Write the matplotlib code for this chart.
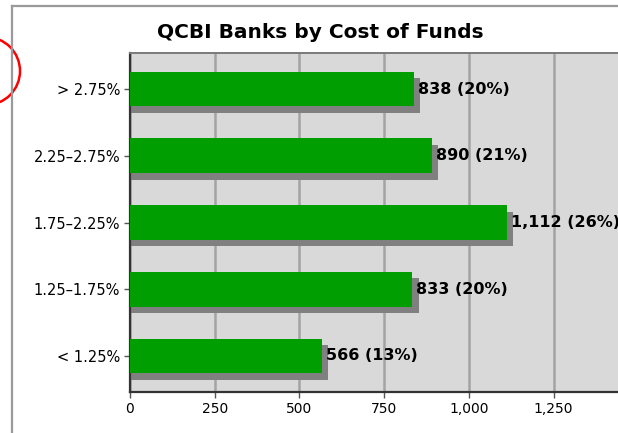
import matplotlib
matplotlib.use("Agg")
import matplotlib.pyplot as plt
import matplotlib.transforms as mtransforms
from matplotlib.lines import Line2D
from matplotlib.patches import Circle
import numpy as np

# cost-of-funds buckets, bottom to top
categories = ["< 1.25%", "1.25\u20131.75%", "1.75\u20132.25%", "2.25\u20132.75%", "> 2.75%"]
bank_counts = [566, 833, 1112, 890, 838]
x_ticks = [0, 250, 500, 750, 1000, 1250]

GREEN = "#009e00"
SHADOW = "#808080"
PANEL = "#d9d9d9"
GRID = "#a3a3a3"

fig = plt.figure(figsize=(6.18, 4.33), dpi=100)
# the value axis runs to 1,500, a little past the right edge of the figure
ax = fig.add_axes([130 / 618, 41 / 433, 508.3 / 618, 339 / 433])

total = sum(bank_counts)
pcts = [round(v / total * 100) for v in bank_counts]
y = np.arange(len(categories))
bar_h = 0.52

# drop shadow: same bars nudged right and down a few pixels
shift = mtransforms.ScaledTranslation(0.065, -0.065, fig.dpi_scale_trans)
shadows = ax.barh(y, np.array(bank_counts) + 30, left=-30, height=bar_h,
                  color=SHADOW, zorder=2)
for p in shadows:
    p.set_transform(ax.transData + shift)
ax.barh(y, bank_counts, height=bar_h, color=GREEN, zorder=3)

ax.set_xlim(0, 1500)
ax.set_ylim(-0.54, len(categories) - 1 + 0.54)
ax.set_facecolor(PANEL)
ax.set_xticks(x_ticks + [1500])
ax.set_xticklabels([f"{v:,}" for v in x_ticks] + [""])
ax.set_yticks(y)
ax.set_yticklabels(categories)
ax.tick_params(axis="y", labelsize=10.5, length=4, width=1, color="#555555", pad=3)
ax.tick_params(axis="x", labelsize=10, length=4, width=1, color="#555555", pad=3)
ax.grid(axis="x", color=GRID, linewidth=1.8, zorder=1)
ax.set_axisbelow(True)

for side in ("left", "bottom"):
    ax.spines[side].set_color("#333333")
    ax.spines[side].set_linewidth(1.6)
ax.spines["top"].set_color("#7a7a7a")
ax.spines["top"].set_linewidth(1.4)
ax.spines["right"].set_visible(False)

# value labels with share of total
for yi, v, pc in zip(y, bank_counts, pcts):
    ax.annotate(f"{v:,} ({pc}%)", xy=(v, yi), xytext=(3, 0),
                textcoords="offset points", ha="left", va="center",
                fontsize=11.5, fontweight="bold", zorder=4)

fig.text(320 / 618, (433 - 33) / 433, "QCBI Banks by Cost of Funds",
         ha="center", va="center", fontsize=14.5, fontweight="bold")

# outer frame
frame_x = 12 / 618
frame_y = (433 - 6) / 433
fig.add_artist(Line2D([frame_x, frame_x], [0, frame_y], transform=fig.transFigure,
                      color="#9a9a9a", linewidth=1.6))
fig.add_artist(Line2D([frame_x, 1], [frame_y, frame_y], transform=fig.transFigure,
                      color="#9a9a9a", linewidth=1.6))

# red marker circle at the left edge
fig.add_artist(Circle((-0.14, 3.62), 0.34, transform=fig.dpi_scale_trans,
                      fill=False, edgecolor="#ff0000", linewidth=1.8, clip_on=False))

fig.savefig("out.png", dpi=100)
